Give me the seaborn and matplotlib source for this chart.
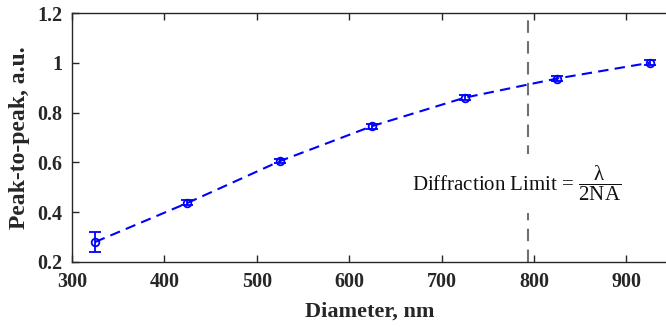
import numpy as np
import matplotlib
matplotlib.use('Agg')
import matplotlib.pyplot as plt
import seaborn as sns
from matplotlib.ticker import FormatStrFormatter

# data
diameter = [325, 425, 525, 625, 725, 825, 925]
peak = [0.280, 0.437, 0.605, 0.746, 0.860, 0.937, 1.000]
peak_err = [0.040, 0.010, 0.008, 0.010, 0.010, 0.010, 0.010]
diff_limit = 793

sns.set_style("ticks")
plt.rcParams['font.family'] = ['Liberation Serif', 'DejaVu Serif']
plt.rcParams['mathtext.fontset'] = 'custom'
plt.rcParams['mathtext.rm'] = 'Liberation Serif'
plt.rcParams['mathtext.it'] = 'Liberation Serif'

fig = plt.figure(figsize=(6.66, 3.27), dpi=100)
ax = fig.add_axes([0.108, 0.199, 0.895, 0.761])

sns.lineplot(x=diameter, y=peak, ax=ax, color='#0000ff', linestyle=(0, (5, 3)),
             linewidth=1.5, zorder=3)
ax.errorbar(diameter, peak, yerr=peak_err, fmt='o', mfc='none', mec='#0000ff',
            ecolor='#0000ff', ms=5.5, mew=1.3, capsize=4, elinewidth=1.3, zorder=4)

ax.axvline(diff_limit, color='#707070', linestyle=(0, (6, 4)), linewidth=1.5, zorder=2)
ax.text(diff_limit - 12, 0.515, r"Diffraction Limit = $\dfrac{\lambda}{\mathrm{2NA}}$",
        ha='center', va='center', fontsize=15, color='#111111',
        bbox=dict(facecolor='white', edgecolor='none', pad=7), zorder=5)

ax.set_xlim(300, 945)
ax.set_ylim(0.2, 1.2)
ax.set_xticks([300, 400, 500, 600, 700, 800, 900])
ax.set_yticks([0.2, 0.4, 0.6, 0.8, 1.0, 1.2])
ax.yaxis.set_major_formatter(FormatStrFormatter('%g'))
ax.tick_params(direction='in', length=5, width=1, top=True, right=False,
               labelsize=14.5, colors='#262626', pad=7)
for lab in ax.get_xticklabels() + ax.get_yticklabels():
    lab.set_fontweight('bold')
for side in ['left', 'bottom', 'top']:
    ax.spines[side].set_color('#262626')
    ax.spines[side].set_linewidth(1)
ax.spines['right'].set_visible(False)

ax.set_xlabel("Diameter, nm", fontsize=16, fontweight='bold', labelpad=7)
ax.set_ylabel("Peak-to-peak, a.u.", fontsize=17, fontweight='bold', labelpad=5)

plt.savefig('out.png', dpi=100)
